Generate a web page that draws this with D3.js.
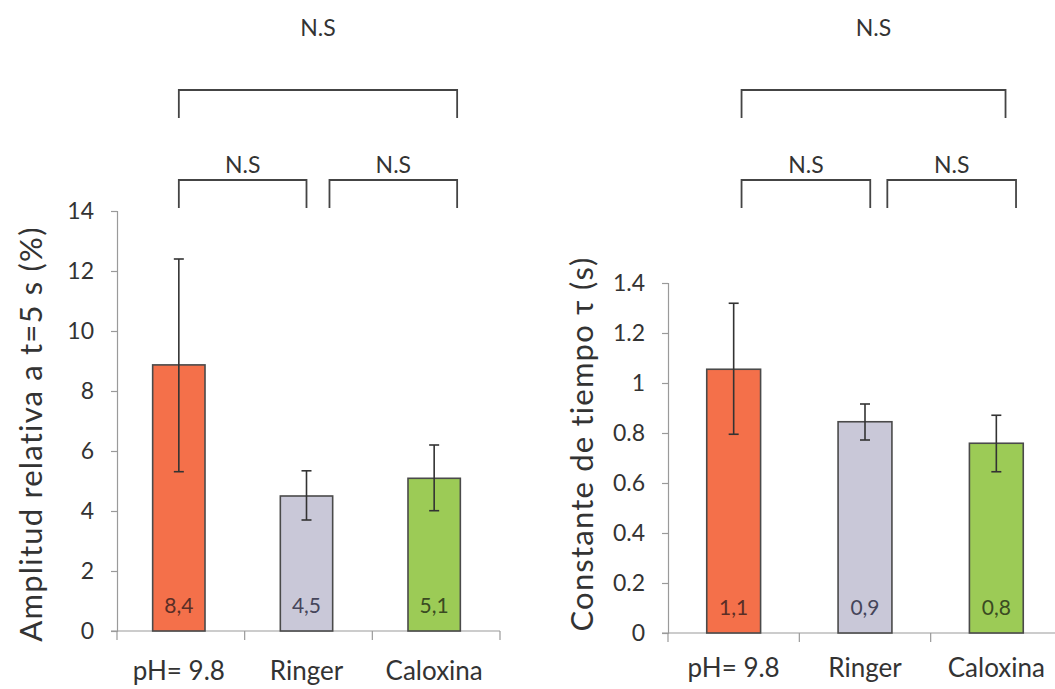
<!DOCTYPE html>
<html>
<head>
<meta charset="utf-8">
<script src="https://cdn.jsdelivr.net/npm/d3@7"></script>
<style>
  html, body { margin: 0; padding: 0; background: #fff; }
  svg { display: block; font-family: Lato, "Open Sans", sans-serif; }
</style>
</head>
<body>
<svg id="chart" width="1055" height="689"></svg>
<script>
// ---------- DATA ----------
const categories = ["pH= 9.8", "Ringer", "Caloxina"];
const barColors = ["#f4704a", "#c9c8d8", "#9ccb56"];
const labelColors = ["#5a2e26", "#45455a", "#3a4a22"];

// Left panel: Amplitud relativa a t=5 s (%)
const ampMeans = [8.87, 4.5, 5.09];
const ampErrHigh = [12.4, 5.34, 6.2];
const ampErrLow = [5.31, 3.7, 4.01];
const ampLabels = ["8,4", "4,5", "5,1"];
const ampTicks = [0, 2, 4, 6, 8, 10, 12, 14];
const ampTickLabels = ["0", "2", "4", "6", "8", "10", "12", "14"];

// Right panel: Constante de tiempo τ (s)
const tauMeans = [1.055, 0.845, 0.759];
const tauErrHigh = [1.319, 0.916, 0.871];
const tauErrLow = [0.795, 0.772, 0.645];
const tauLabels = ["1,1", "0,9", "0,8"];
const tauTicks = [0, 0.2, 0.4, 0.6, 0.8, 1, 1.2, 1.4];
const tauTickLabels = ["0", "0.2", "0.4", "0.6", "0.8", "1", "1.2", "1.4"];

// Significance brackets: [from, to] in category-index units, level (0 = lower, 1 = upper)
const ampBrackets = [[0.0, 2.18, 1], [0.0, 1.0, 0], [1.18, 2.18, 0]];
const tauBrackets = [[0.06, 2.07, 1], [0.06, 1.04, 0], [1.17, 2.15, 0]];
const bracketText = "N.S";

// ---------- LAYOUT ----------
const svg = d3.select("#chart");

const panels = [
  {
    means: ampMeans, hi: ampErrHigh, lo: ampErrLow, labels: ampLabels,
    ticks: ampTicks, tickLabels: ampTickLabels, domain: [0, 14],
    x0: 117, x1: 500, barShift: -2, yTop: 211, yBottom: 631,
    title: "Amplitud relativa a t=5 s (%)", titleX: 30, titleY: 434,
    brackets: ampBrackets, xLabelY: 680
  },
  {
    means: tauMeans, hi: tauErrHigh, lo: tauErrLow, labels: tauLabels,
    ticks: tauTicks, tickLabels: tauTickLabels, domain: [0, 1.4],
    x0: 668, x1: 1062, barShift: 0, yTop: 283, yBottom: 633,
    title: "Constante de tiempo \u03c4 (s)", titleX: 581, titleY: 444,
    brackets: tauBrackets, xLabelY: 677
  }
];

const textColor = "#333";
const axisColor = "#9a9a9a";

panels.forEach(p => {
  const g = svg.append("g");
  const y = d3.scaleLinear().domain(p.domain).range([p.yBottom, p.yTop]);
  const x = d3.scaleBand().domain(categories).range([p.x0, p.x1]).paddingInner(0).paddingOuter(0);
  const bw = x.bandwidth() * 0.41;
  const cx = i => x(categories[i]) + x.bandwidth() / 2 + p.barShift;
  // position in category units (0 = centre of first category)
  const xc = d3.scaleLinear().domain([0, 1]).range([cx(0), cx(1)]);

  // Y axis
  const yAxis = d3.axisLeft(y).tickValues(p.ticks)
    .tickFormat((d, i) => p.tickLabels[i]).tickSize(6).tickPadding(17);
  const ya = g.append("g").attr("transform", `translate(${p.x0},0)`).call(yAxis);
  ya.select(".domain").attr("stroke", axisColor).attr("stroke-width", 1.2);
  ya.selectAll(".tick line").attr("stroke", axisColor).attr("stroke-width", 1.2);
  ya.selectAll(".tick text").attr("fill", textColor)
    .style("font-size", "23px").style("font-family", "Lato, sans-serif");

  // X axis line and boundary ticks
  g.append("line").attr("x1", p.x0 - 6).attr("x2", p.x1).attr("y1", y(0)).attr("y2", y(0))
    .attr("stroke", axisColor).attr("stroke-width", 1.2);
  const bounds = categories.map(c => x(c)).concat([p.x1]);
  g.selectAll(".xt").data(bounds).enter().append("line")
    .attr("x1", d => d).attr("x2", d => d)
    .attr("y1", y(0)).attr("y2", y(0) + 9)
    .attr("stroke", axisColor).attr("stroke-width", 1.2);

  // Bars
  g.selectAll(".bar").data(p.means).enter().append("rect")
    .attr("x", (d, i) => cx(i) - bw / 2)
    .attr("y", d => y(d))
    .attr("width", bw)
    .attr("height", d => y(0) - y(d))
    .attr("fill", (d, i) => barColors[i])
    .attr("stroke", "#4a4a4a").attr("stroke-width", 1.6);

  // Error bars
  const cap = 5;
  p.means.forEach((m, i) => {
    const eg = g.append("g").attr("stroke", "#333").attr("stroke-width", 1.6);
    eg.append("line").attr("x1", cx(i)).attr("x2", cx(i)).attr("y1", y(p.hi[i])).attr("y2", y(p.lo[i]));
    eg.append("line").attr("x1", cx(i) - cap).attr("x2", cx(i) + cap).attr("y1", y(p.hi[i])).attr("y2", y(p.hi[i]));
    eg.append("line").attr("x1", cx(i) - cap).attr("x2", cx(i) + cap).attr("y1", y(p.lo[i])).attr("y2", y(p.lo[i]));
  });

  // Bar value labels
  g.selectAll(".bl").data(p.labels).enter().append("text")
    .attr("x", (d, i) => cx(i)).attr("y", y(0) - 18)
    .attr("text-anchor", "middle").attr("fill", (d, i) => labelColors[i])
    .style("font-size", "21px").text(d => d);

  // Category labels
  g.selectAll(".cl").data(categories).enter().append("text")
    .attr("x", (d, i) => cx(i)).attr("y", p.xLabelY)
    .attr("text-anchor", "middle").attr("fill", textColor)
    .style("font-size", "26px").text(d => d);

  // Y title
  g.append("text")
    .attr("transform", `translate(${p.titleX},${p.titleY}) rotate(-90)`)
    .attr("text-anchor", "middle").attr("dominant-baseline", "central")
    .attr("fill", textColor).style("font-size", "31px")
    .style("letter-spacing", "1.2px").text(p.title);

  // Brackets
  const levelY = [180, 90];
  const drop = 28;
  const textY = [173, 36];
  p.brackets.forEach(b => {
    const xa = xc(b[0]), xb = xc(b[1]), yy = levelY[b[2]];
    g.append("path")
      .attr("d", `M${xa},${yy + drop}V${yy}H${xb}V${yy + drop}`)
      .attr("fill", "none").attr("stroke", "#444").attr("stroke-width", 1.8);
    g.append("text").attr("x", (xa + xb) / 2).attr("y", textY[b[2]])
      .attr("text-anchor", "middle").attr("fill", textColor)
      .style("font-size", "23px").text(bracketText);
  });
});
</script>
</body>
</html>
